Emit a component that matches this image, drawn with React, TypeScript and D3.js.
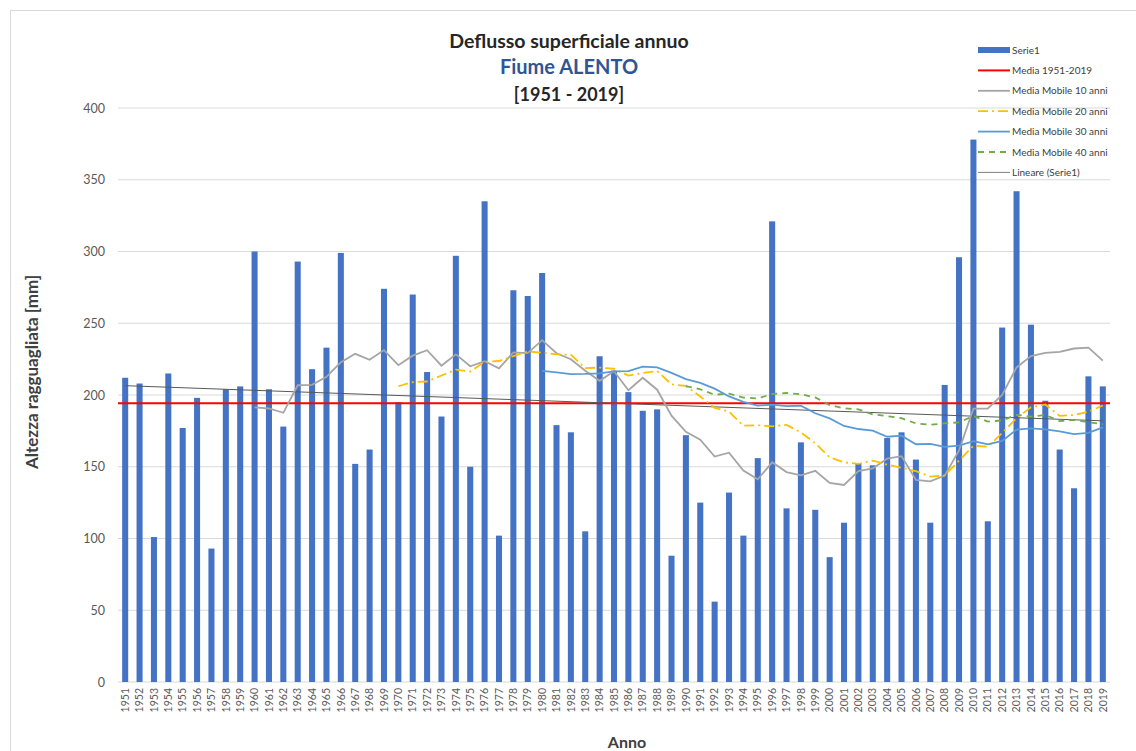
import React from "react";
import * as d3 from "d3";

const years: number[] = d3.range(1951, 2020);

const serie1: number[] = [
  212, 208, 101, 215, 177, 198, 93, 204, 206, 300,
  204, 178, 293, 218, 233, 299, 152, 162, 274, 195,
  270, 216, 185, 297, 150, 335, 102, 273, 269, 285,
  179, 174, 105, 227, 217, 202, 189, 190, 88, 172,
  125, 56, 132, 102, 156, 321, 121, 167, 120, 87,
  111, 152, 151, 170, 174, 155, 111, 207, 296, 378,
  112, 247, 342, 249, 196, 162, 135, 213, 206,
];

const media = 194.2;

// Media mobile 10 anni (from 1960)
const mm10: number[] = [
  191.4, 190.6, 187.6, 206.8, 207.1, 212.7, 222.8, 228.7, 224.5, 231.3,
  220.8, 227.4, 231.2, 220.4, 228.3, 220.0, 223.6, 218.6, 229.7, 229.2,
  238.2, 229.1, 224.9, 216.9, 209.9, 216.6, 203.3, 212.0, 203.7, 185.6,
  174.3, 168.9, 157.1, 159.8, 147.3, 141.2, 153.1, 146.3, 144.0, 147.2,
  138.7, 137.3, 146.9, 148.8, 155.6, 157.4, 140.8, 139.8, 143.8, 161.4,
  190.5, 190.6, 200.1, 219.2, 227.1, 229.3, 230.0, 232.4, 233.0, 224.0,
];
// Media mobile 20 anni (from 1970)
const mm20: number[] = [
  206.1, 209.0, 209.4, 213.6, 217.7, 216.4, 223.2, 223.7, 227.1, 230.3,
  229.5, 228.3, 228.1, 218.7, 219.1, 218.3, 213.5, 215.3, 216.7, 207.4,
  206.3, 199.0, 191.0, 188.4, 178.6, 178.9, 178.2, 179.2, 173.9, 166.4,
  156.5, 153.1, 152.0, 154.3, 151.5, 149.3, 147.0, 143.1, 143.9, 154.3,
  164.6, 164.0, 173.5, 184.0, 191.4, 193.4, 185.4, 186.1, 188.4, 192.7,
];
// Media mobile 30 anni (from 1980)
const mm30: number[] = [
  216.8, 215.7, 214.6, 214.7, 215.1, 216.4, 216.6, 219.8, 219.3, 215.4,
  211.1, 208.5, 204.4, 199.0, 195.2, 192.6, 193.3, 192.3, 192.5, 187.3,
  183.7, 178.4, 176.3, 175.2, 170.9, 171.7, 165.7, 166.0, 163.8, 164.7,
  167.8, 165.6, 168.0, 175.9, 176.7, 176.0, 174.6, 172.8, 173.6, 177.5,
];
// Media mobile 40 anni (from 1990)
const mm40: number[] = [
  206.2, 204.0, 200.2, 201.0, 198.2, 197.6, 200.7, 201.4, 200.5, 198.3,
  193.0, 190.7, 190.0, 186.5, 185.3, 183.8, 180.2, 179.2, 180.3, 180.9,
  185.4, 181.5, 182.3, 186.2, 185.0, 186.1, 181.8, 182.6, 181.1, 179.6,
];
// Lineare (Serie1): values at 1951 and 2019
const trendYears: number[] = [1951, 2019];
const trendValues: number[] = [206.5, 182.0];

const yTicks: number[] = [0, 50, 100, 150, 200, 250, 300, 350, 400];

const legendItems = [
  { label: "Serie1", kind: "bar" },
  { label: "Media 1951-2019", kind: "line", color: "#FF0000", width: 2, dash: "" },
  { label: "Media Mobile 10 anni", kind: "line", color: "#A5A5A5", width: 1.8, dash: "" },
  { label: "Media Mobile 20 anni", kind: "line", color: "#FFC000", width: 1.8, dash: "10,4,2,4" },
  { label: "Media Mobile 30 anni", kind: "line", color: "#5B9BD5", width: 1.8, dash: "" },
  { label: "Media Mobile 40 anni", kind: "line", color: "#70AD47", width: 1.8, dash: "6,5" },
  { label: "Lineare (Serie1)", kind: "line", color: "#7F7F7F", width: 1, dash: "" },
];

const FONT = "Lato, 'Open Sans', sans-serif";

export default function App() {
  const W = 1136, H = 751;
  const left = 118, right = 1110, top = 108, bottom = 682;

  const x = d3.scaleBand<number>().domain(years).range([left, right]).paddingInner(0.58).paddingOuter(0.29);
  const y = d3.scaleLinear().domain([0, 400]).range([bottom, top]);
  const cx = (yr: number) => (x(yr) as number) + x.bandwidth() / 2;

  const line = (start: number, vals: number[]) =>
    d3.line<number>().x((_, i) => cx(start + i)).y((d) => y(d))(vals) || "";

  return (
    <svg width={W} height={H} style={{ position: "absolute", left: 0, top: 0, background: "#fff" }} fontFamily={FONT}>
      <rect x={0} y={0} width={W} height={H} fill="#fff" />
      <line x1={10} y1={10.5} x2={W} y2={10.5} stroke="#d9d9d9" />
      <line x1={10.5} y1={10} x2={10.5} y2={H} stroke="#d9d9d9" />

      {/* Gridlines */}
      {yTicks.map((t) => (
        <line key={t} x1={left} x2={right} y1={y(t)} y2={y(t)} stroke="#d9d9d9" strokeWidth={1} />
      ))}

      {/* Y tick labels */}
      {yTicks.map((t) => (
        <text key={"yl" + t} x={105} y={y(t) + 4.5} textAnchor="end" fontSize={12.5} fill="#595959">
          {t}
        </text>
      ))}

      {/* Bars */}
      {serie1.map((v, i) => (
        <rect key={"b" + i} x={x(years[i])} y={y(v)} width={x.bandwidth()} height={y(0) - y(v)} fill="#4472C4" />
      ))}

      {/* Mean */}
      <line x1={left} x2={right} y1={y(media)} y2={y(media)} stroke="#FF0000" strokeWidth={2} />

      {/* Trend line */}
      <path
        d={d3.line<number>().x((yr) => cx(yr)).y((_, i) => y(trendValues[i]))(trendYears) || ""}
        stroke="#595959"
        strokeWidth={1}
        fill="none"
      />

      {/* Moving averages */}
      <path d={line(1960, mm10)} stroke="#A5A5A5" strokeWidth={1.8} fill="none" />
      <path d={line(1970, mm20)} stroke="#FFC000" strokeWidth={1.8} strokeDasharray="10,4,2,4" fill="none" />
      <path d={line(1980, mm30)} stroke="#5B9BD5" strokeWidth={1.8} fill="none" />
      <path d={line(1990, mm40)} stroke="#70AD47" strokeWidth={1.8} strokeDasharray="6,5" fill="none" />

      {/* X tick labels */}
      {years.map((yr) => (
        <text
          key={"xl" + yr}
          transform={`translate(${cx(yr) + 3.7},${688}) rotate(-90)`}
          textAnchor="end"
          fontSize={10.5}
          fill="#595959"
        >
          {yr}
        </text>
      ))}

      {/* Titles */}
      <text x={569} y={48} textAnchor="middle" fontSize={19.5} fontWeight="bold" fill="#262626">
        Deflusso superficiale annuo
      </text>
      <text x={569} y={74} textAnchor="middle" fontSize={20} fontWeight="bold" fill="#2F5597">
        Fiume ALENTO
      </text>
      <text x={569} y={101} textAnchor="middle" fontSize={18} fontWeight="bold" fill="#262626">
        [1951 - 2019]
      </text>

      {/* Axis titles */}
      <text transform={`translate(38,${372}) rotate(-90)`} textAnchor="middle" fontSize={17} fontWeight="bold" fill="#404040">
        Altezza ragguagliata [mm]
      </text>
      <text x={627} y={748} textAnchor="middle" fontSize={16} fontWeight="bold" fill="#404040">
        Anno
      </text>

      {/* Legend */}
      {legendItems.map((it, i) => {
        const ly = 50 + i * 20.4;
        return (
          <g key={"lg" + i}>
            {it.kind === "bar" ? (
              <rect x={978} y={ly - 3} width={32} height={6} fill="#4472C4" />
            ) : (
              <line x1={978} x2={1010} y1={ly} y2={ly} stroke={it.color} strokeWidth={it.width} strokeDasharray={it.dash || undefined} />
            )}
            <text x={1012} y={ly + 3.5} fontSize={10} fill="#404040">
              {it.label}
            </text>
          </g>
        );
      })}
    </svg>
  );
}
